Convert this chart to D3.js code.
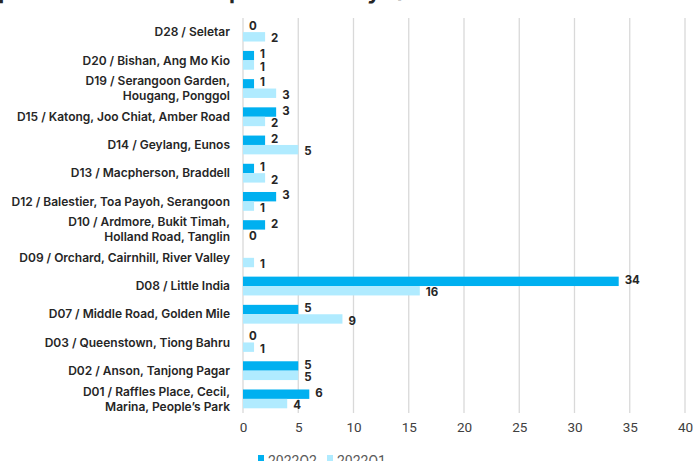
<!DOCTYPE html>
<html><head><meta charset="utf-8">
<script src="https://cdn.jsdelivr.net/npm/d3@7"></script>
<style>
html,body{margin:0;padding:0;background:#fff;}
svg{display:block;}
</style></head>
<body>
<svg id="chart" width="694" height="461"></svg>
<script>
const categories = [
  ["D28 / Seletar"],
  ["D20 / Bishan, Ang Mo Kio"],
  ["D19 / Serangoon Garden,", "Hougang, Ponggol"],
  ["D15 / Katong, Joo Chiat, Amber Road"],
  ["D14 / Geylang, Eunos"],
  ["D13 / Macpherson, Braddell"],
  ["D12 / Balestier, Toa Payoh, Serangoon"],
  ["D10 / Ardmore, Bukit Timah,", "Holland Road, Tanglin"],
  ["D09 / Orchard, Cairnhill, River Valley"],
  ["D08 / Little India"],
  ["D07 / Middle Road, Golden Mile"],
  ["D03 / Queenstown, Tiong Bahru"],
  ["D02 / Anson, Tanjong Pagar"],
  ["D01 / Raffles Place, Cecil,", "Marina, People\u2019s Park"]
];
const q2Values = [0, 1, 1, 3, 2, 1, 3, 2, null, 34, 5, 0, 5, 6];
const q1Values = [2, 1, 3, 2, 5, 2, 1, 0, 1, 16, 9, 1, 5, 4];
const seriesNames = ["2022Q2", "2022Q1"];
const seriesColors = ["#00B0F0", "#B0EBFF"];
const xTicks = [0, 5, 10, 15, 20, 25, 30, 35, 40];
const titleText = "Shophouse Transactions per District by Quarter";

const svg = d3.select("#chart");
const x = d3.scaleLinear().domain([0, 40]).range([243, 685]);
const y = d3.scaleBand().domain(d3.range(categories.length)).range([18, 413]).padding(0);
const sub = d3.scaleBand().domain([0, 1]).range([0, y.bandwidth()]).paddingOuter(0.5).paddingInner(0);

// title (mostly cut off at top)
const title = svg.append("text")
  .attr("x", 0).attr("y", -1)
  .attr("font-family", "Inter, 'Open Sans', sans-serif")
  .attr("font-weight", 700).attr("font-size", 22)
  .attr("fill", "#262626")
  .text(titleText);
try {
  const pIdx = titleText.indexOf("per");
  const px = title.node().getStartPositionOfChar(pIdx).x;
  title.attr("x", 229 - px);
} catch (e) {}

// gridlines
svg.append("g").selectAll("line").data(xTicks).join("line")
  .attr("x1", d => x(d)).attr("x2", d => x(d))
  .attr("y1", 18).attr("y2", 413)
  .attr("stroke", "#D9D9D9").attr("stroke-width", 1.3);

// x axis
const xAxis = d3.axisBottom(x).tickValues(xTicks).tickSize(0).tickPadding(0);
const gx = svg.append("g").attr("transform", "translate(0,422)").call(xAxis);
gx.select(".domain").remove();
gx.selectAll("text")
  .attr("font-family", "Roboto, sans-serif").attr("font-size", 13.5)
  .attr("fill", "#404040").attr("dy", "0.71em");

// bars
const series = [q2Values, q1Values];
series.forEach((vals, si) => {
  svg.append("g").selectAll("rect").data(vals).join("rect")
    .attr("x", x(0))
    .attr("y", (d, i) => y(i) + sub(si))
    .attr("width", d => x(d || 0) - x(0))
    .attr("height", sub.bandwidth())
    .attr("fill", seriesColors[si]);
  svg.append("g").selectAll("text").data(vals.map((v, i) => ({v, i})).filter(o => o.v !== null)).join("text")
    .attr("x", o => x(o.v) + 6)
    .attr("y", o => y(o.i) + sub(si) + sub.bandwidth() / 2 + (si === 0 ? -1.5 : 1.5))
    .attr("dy", "0.36em")
    .attr("font-family", "Inter, 'Open Sans', sans-serif")
    .attr("font-weight", 700).attr("font-size", 11.5)
    .attr("fill", "#262626")
    .text(o => o.v);
});

// category labels
const yl = svg.append("g");
categories.forEach((lines, i) => {
  const cy = y(i) + y.bandwidth() / 2;
  const t = yl.append("text")
    .attr("text-anchor", "end")
    .attr("font-family", "Inter, 'Open Sans', sans-serif")
    .attr("font-weight", 600).attr("font-size", 12)
    .attr("fill", "#262626");
  const lh = 15;
  lines.forEach((ln, j) => {
    t.append("tspan").attr("x", 230)
      .attr("y", cy + (j - (lines.length - 1) / 2) * lh)
      .attr("dy", "0.35em").text(ln);
  });
});

// legend
const lg = svg.append("g");
const legX = [258, 327];
seriesNames.forEach((n, i) => {
  lg.append("rect").attr("x", legX[i]).attr("y", 455).attr("width", 6).attr("height", 6).attr("fill", seriesColors[i]);
  lg.append("text").attr("x", legX[i] + 10).attr("y", 466)
    .attr("font-family", "Roboto, sans-serif").attr("font-size", 14)
    .attr("fill", "#595959").text(n);
});
</script>
</body></html>
